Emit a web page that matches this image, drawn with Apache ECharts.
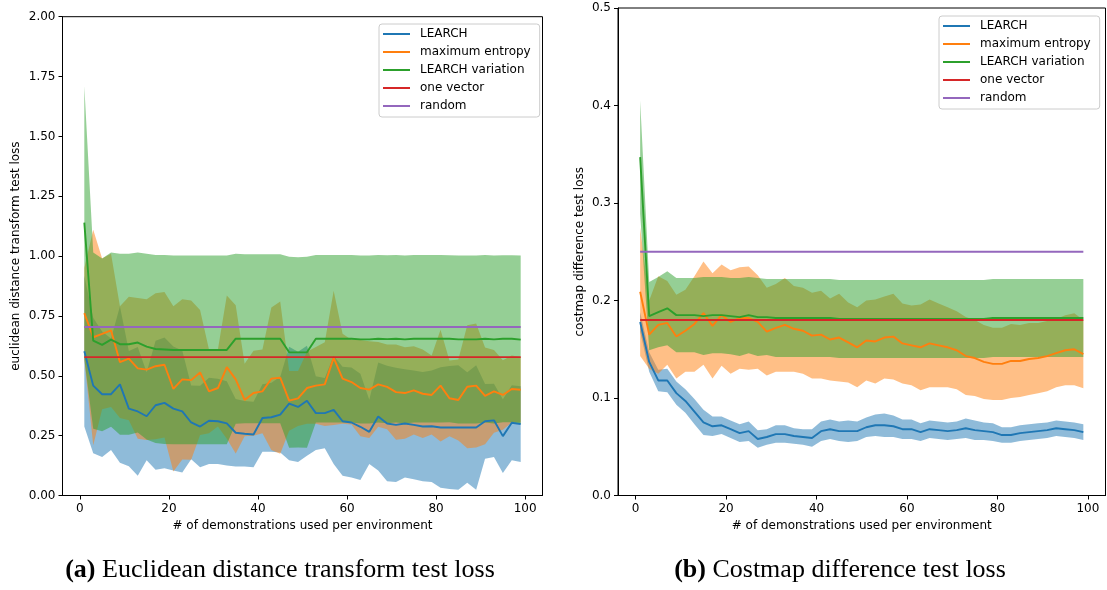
<!DOCTYPE html>
<html>
<head>
<meta charset="utf-8">
<script src="https://cdn.jsdelivr.net/npm/echarts@6/dist/echarts.min.js"></script>
<style>
  html, body { margin: 0; padding: 0; background: #fff; }
  #chart { width: 1107px; height: 590px; }
</style>
</head>
<body>
<div id="chart"></div>
<script>
// number of demonstrations (x)
const demos = [1,3,5,7,9,11,13,15,17,19,21,23,25,27,29,31,33,35,37,39,41,43,45,47,49,
  51,53,55,57,59,61,63,65,67,69,71,73,75,77,79,81,83,85,87,89,91,93,95,97,99];
const xTicks = [0, 20, 40, 60, 80, 100];
const names = ['LEARCH', 'maximum entropy', 'LEARCH variation', 'one vector', 'random'];

// (a) euclidean distance transform test loss
const edtLearchMean = [0.603,0.459,0.423,0.423,0.464,0.363,0.351,0.331,0.377,0.387,0.363,0.351,0.305,0.288,0.312,0.310,0.301,0.262,0.258,0.255,0.324,0.327,0.338,0.384,0.370,
  0.396,0.344,0.344,0.358,0.310,0.305,0.287,0.266,0.330,0.301,0.295,0.301,0.295,0.288,0.289,0.284,0.284,0.284,0.284,0.284,0.310,0.314,0.248,0.304,0.298];
const edtLearchLow = [0.288,0.176,0.161,0.190,0.137,0.122,0.082,0.147,0.108,0.114,0.104,0.096,0.151,0.118,0.132,0.132,0.125,0.121,0.121,0.118,0.183,0.183,0.180,0.147,0.140,
  0.166,0.190,0.197,0.132,0.082,0.075,0.065,0.132,0.104,0.060,0.056,0.075,0.068,0.060,0.056,0.032,0.027,0.024,0.053,0.024,0.154,0.161,0.094,0.147,0.140];
const edtLearchHigh = [0.918,0.742,0.685,0.656,0.791,0.604,0.620,0.515,0.646,0.660,0.622,0.606,0.459,0.458,0.492,0.488,0.477,0.403,0.395,0.392,0.465,0.471,0.496,0.621,0.600,
  0.626,0.498,0.491,0.584,0.538,0.535,0.509,0.400,0.556,0.542,0.534,0.527,0.522,0.516,0.522,0.536,0.541,0.544,0.515,0.544,0.466,0.467,0.402,0.461,0.456];
const edtMaxentMean = [0.762,0.661,0.675,0.690,0.557,0.572,0.531,0.526,0.540,0.546,0.445,0.485,0.482,0.514,0.435,0.449,0.536,0.485,0.399,0.428,0.435,0.488,0.492,0.396,0.406,
  0.449,0.459,0.464,0.575,0.488,0.474,0.449,0.442,0.464,0.454,0.432,0.428,0.439,0.425,0.420,0.459,0.406,0.399,0.454,0.459,0.416,0.435,0.420,0.445,0.442];
const edtMaxentLow = [0.570,0.210,0.360,0.370,0.324,0.314,0.237,0.232,0.235,0.242,0.100,0.150,0.149,0.253,0.260,0.288,0.237,0.175,0.248,0.250,0.260,0.190,0.174,0.270,0.290,
  0.300,0.300,0.290,0.295,0.300,0.297,0.248,0.240,0.287,0.277,0.233,0.237,0.255,0.240,0.255,0.226,0.248,0.230,0.197,0.200,0.214,0.262,0.275,0.305,0.305];
const edtMaxentHigh = [0.950,1.110,0.990,1.010,0.790,0.830,0.825,0.820,0.845,0.850,0.790,0.820,0.815,0.775,0.610,0.610,0.835,0.795,0.550,0.605,0.610,0.785,0.810,0.520,0.520,
  0.600,0.620,0.640,0.855,0.676,0.651,0.650,0.644,0.641,0.631,0.631,0.619,0.623,0.610,0.585,0.692,0.564,0.568,0.711,0.718,0.618,0.608,0.565,0.585,0.579];
const edtVarMean = [1.140,0.647,0.629,0.651,0.632,0.632,0.639,0.622,0.612,0.610,0.608,0.608,0.608,0.608,0.608,0.608,0.608,0.655,0.655,0.655,0.655,0.655,0.655,0.598,0.598,
  0.598,0.655,0.655,0.655,0.655,0.655,0.652,0.652,0.655,0.653,0.655,0.652,0.655,0.655,0.655,0.655,0.655,0.652,0.652,0.652,0.655,0.652,0.655,0.655,0.651];
const edtVarLow = [0.570,0.279,0.268,0.287,0.254,0.254,0.263,0.234,0.219,0.215,0.214,0.214,0.214,0.214,0.214,0.214,0.214,0.300,0.302,0.302,0.302,0.302,0.302,0.199,0.201,
  0.199,0.305,0.305,0.305,0.305,0.305,0.301,0.301,0.305,0.302,0.305,0.301,0.305,0.305,0.305,0.305,0.306,0.301,0.301,0.301,0.305,0.301,0.306,0.306,0.299];
const edtVarHigh = [1.710,1.015,0.990,1.015,1.010,1.010,1.015,1.010,1.005,1.005,1.002,1.002,1.002,1.002,1.002,1.002,1.002,1.010,1.008,1.008,1.008,1.008,1.008,0.997,0.995,
  0.997,1.005,1.005,1.005,1.005,1.005,1.003,1.003,1.005,1.004,1.005,1.003,1.005,1.005,1.005,1.005,1.004,1.003,1.003,1.003,1.005,1.003,1.004,1.004,1.003];
const edtOneVector = 0.578;
const edtRandom = 0.704;

// (b) costmap difference test loss
const cmLearchMean = [0.178,0.137,0.118,0.118,0.105,0.097,0.086,0.075,0.071,0.072,0.068,0.064,0.066,0.058,0.060,0.063,0.063,0.061,0.060,0.059,0.066,0.068,0.066,0.066,0.066,
  0.070,0.072,0.072,0.071,0.068,0.068,0.065,0.068,0.067,0.066,0.067,0.069,0.067,0.066,0.065,0.062,0.062,0.064,0.065,0.066,0.067,0.069,0.068,0.067,0.065];
const cmLearchLow = [0.168,0.127,0.107,0.106,0.093,0.085,0.073,0.062,0.061,0.063,0.059,0.055,0.056,0.049,0.052,0.054,0.054,0.053,0.052,0.050,0.056,0.058,0.056,0.055,0.056,
  0.060,0.061,0.060,0.060,0.058,0.058,0.056,0.059,0.058,0.057,0.058,0.059,0.057,0.057,0.056,0.054,0.054,0.056,0.057,0.058,0.059,0.061,0.060,0.059,0.057];
const cmLearchHigh = [0.188,0.147,0.129,0.130,0.117,0.109,0.099,0.088,0.081,0.081,0.077,0.073,0.076,0.067,0.068,0.072,0.072,0.069,0.068,0.068,0.076,0.078,0.076,0.077,0.076,
  0.080,0.083,0.084,0.082,0.078,0.078,0.074,0.077,0.076,0.075,0.076,0.079,0.077,0.075,0.074,0.070,0.070,0.072,0.073,0.074,0.075,0.077,0.076,0.075,0.073];
const cmMaxentMean = [0.209,0.165,0.175,0.177,0.163,0.169,0.176,0.187,0.174,0.185,0.178,0.182,0.182,0.178,0.168,0.172,0.175,0.171,0.169,0.164,0.165,0.160,0.162,0.157,0.152,
  0.159,0.158,0.162,0.163,0.156,0.154,0.152,0.156,0.154,0.152,0.149,0.143,0.141,0.137,0.135,0.135,0.138,0.138,0.140,0.141,0.143,0.146,0.149,0.150,0.145];
const cmMaxentLow = [0.143,0.130,0.125,0.134,0.120,0.127,0.127,0.134,0.120,0.133,0.125,0.130,0.129,0.130,0.123,0.127,0.127,0.127,0.125,0.120,0.120,0.118,0.117,0.116,0.111,
  0.118,0.115,0.120,0.119,0.115,0.113,0.108,0.111,0.111,0.111,0.109,0.103,0.102,0.099,0.098,0.098,0.100,0.101,0.103,0.105,0.107,0.111,0.113,0.113,0.110];
const cmMaxentHigh = [0.275,0.200,0.225,0.220,0.206,0.211,0.225,0.240,0.228,0.237,0.231,0.234,0.235,0.226,0.213,0.217,0.223,0.215,0.213,0.208,0.210,0.202,0.207,0.198,0.193,
  0.200,0.201,0.204,0.207,0.197,0.195,0.196,0.201,0.197,0.193,0.189,0.183,0.180,0.175,0.172,0.172,0.176,0.175,0.177,0.177,0.179,0.181,0.185,0.187,0.180];
const cmVarMean = [0.347,0.184,0.188,0.192,0.185,0.185,0.185,0.184,0.185,0.185,0.184,0.183,0.185,0.183,0.183,0.182,0.182,0.182,0.182,0.182,0.182,0.182,0.181,0.181,0.181,
  0.181,0.181,0.181,0.181,0.181,0.181,0.181,0.181,0.181,0.181,0.181,0.181,0.181,0.181,0.182,0.182,0.182,0.182,0.182,0.182,0.182,0.182,0.182,0.182,0.182];
const cmVarLow = [0.289,0.149,0.152,0.154,0.147,0.147,0.147,0.144,0.146,0.146,0.145,0.143,0.146,0.143,0.144,0.142,0.142,0.142,0.142,0.142,0.142,0.142,0.141,0.141,0.141,
  0.141,0.141,0.141,0.141,0.141,0.141,0.141,0.141,0.141,0.141,0.141,0.141,0.141,0.141,0.142,0.142,0.142,0.142,0.142,0.142,0.142,0.142,0.142,0.142,0.142];
const cmVarHigh = [0.405,0.219,0.224,0.230,0.223,0.223,0.223,0.224,0.224,0.224,0.223,0.223,0.224,0.223,0.222,0.222,0.222,0.222,0.222,0.222,0.222,0.222,0.221,0.221,0.221,
  0.221,0.221,0.221,0.221,0.221,0.221,0.221,0.221,0.221,0.221,0.221,0.221,0.221,0.221,0.222,0.222,0.222,0.222,0.222,0.222,0.222,0.222,0.222,0.222,0.222];
const cmOneVector = 0.180;
const cmRandom = 0.250;

const colors = { blue: '#1f77b4', orange: '#ff7f0e', green: '#2ca02c', red: '#d62728', purple: '#9467bd' };
const bandFill = { blue: 'rgba(31,119,180,0.5)', orange: 'rgba(255,127,14,0.5)', green: 'rgba(44,160,44,0.5)' };
const font = 'DejaVu Sans';

// filled band between low and high, drawn through the axis scale
function band(idx, low, high, fill) {
  return {
    type: 'custom',
    xAxisIndex: idx,
    yAxisIndex: idx,
    silent: true,
    z: 1,
    data: [[demos[0], low[0]]],
    renderItem: function (params, api) {
      const pts = [];
      for (let i = 0; i < demos.length; i++) pts.push(api.coord([demos[i], high[i]]));
      for (let i = demos.length - 1; i >= 0; i--) pts.push(api.coord([demos[i], low[i]]));
      return { type: 'polygon', shape: { points: pts }, style: { fill: fill } };
    }
  };
}

function line(idx, name, ys, color) {
  return {
    type: 'line',
    name: name,
    xAxisIndex: idx,
    yAxisIndex: idx,
    z: 3,
    color: color,
    symbol: 'none',
    lineStyle: { color: color, width: 1.9 },
    data: demos.map((x, i) => [x, ys[i]])
  };
}

function flat(idx, name, v, color) {
  return {
    type: 'line',
    name: name,
    xAxisIndex: idx,
    yAxisIndex: idx,
    z: 3,
    color: color,
    symbol: 'none',
    lineStyle: { color: color, width: 1.9 },
    data: [[demos[0], v], [demos[demos.length - 1], v]]
  };
}

function xAxisFor(idx) {
  return {
    type: 'value', gridIndex: idx, min: -3.9, max: 103.9,
    name: '# of demonstrations used per environment',
    nameLocation: 'middle', nameGap: 23,
    nameTextStyle: { fontFamily: font, fontSize: 12, color: '#000' },
    axisLine: { onZero: false, lineStyle: { color: '#000', width: 1 } },
    axisTick: { length: 4, lineStyle: { color: '#000' }, customValues: xTicks },
    axisLabel: { customValues: xTicks, fontFamily: font, fontSize: 12, color: '#000', margin: 7 },
    splitLine: { show: false }
  };
}

function yAxisFor(idx, name, max, step, digits, gap) {
  return {
    type: 'value', gridIndex: idx, min: 0, max: max, interval: step,
    name: name, nameLocation: 'middle', nameGap: gap,
    nameTextStyle: { fontFamily: font, fontSize: 12, color: '#000' },
    axisLine: { show: true, onZero: false, lineStyle: { color: '#000', width: 1 } },
    axisTick: { show: true, length: 4, lineStyle: { color: '#000' } },
    axisLabel: { fontFamily: font, fontSize: 12, color: '#000', margin: 7,
      formatter: v => v.toFixed(digits) },
    splitLine: { show: false }
  };
}

function legendAt(left, top) {
  return {
    orient: 'vertical', left: left, top: top,
    data: names, icon: 'rect', itemWidth: 27, itemHeight: 2, itemGap: 0,
    padding: [1, 9, 2, 4],
    borderColor: '#cccccc', borderWidth: 1, borderRadius: 3,
    backgroundColor: 'rgba(255,255,255,0.8)',
    textStyle: { fontFamily: font, fontSize: 12, color: '#000', lineHeight: 18, padding: [0, 0, 0, 5] }
  };
}

function caption(tag, text, x) {
  return {
    text: '{b|' + tag + '} ' + text,
    left: x, top: 557, textAlign: 'center', padding: 0,
    textStyle: {
      fontFamily: 'Liberation Serif', fontSize: 26, fontWeight: 'normal', color: '#000',
      rich: { b: { fontFamily: 'Liberation Serif', fontSize: 26, fontWeight: 'bold', color: '#000' } }
    }
  };
}

const chart = echarts.init(document.getElementById('chart'));
chart.setOption({
  animation: false,
  backgroundColor: '#fff',
  title: [
    caption('(a)', 'Euclidean distance transform test loss', 280),
    caption('(b)', 'Costmap difference test loss', 840)
  ],
  legend: [legendAt(379, 24), legendAt(939, 16)],
  grid: [
    { left: 62.5, right: 564.5, top: 16.7, bottom: 94.5, show: true, borderColor: '#000', borderWidth: 1 },
    { left: 618, right: 1.5, top: 8, bottom: 94.5, show: true, borderColor: '#000', borderWidth: 1 }
  ],
  xAxis: [xAxisFor(0), xAxisFor(1)],
  yAxis: [
    yAxisFor(0, 'euclidean distance transform test loss', 2, 0.25, 2, 41),
    yAxisFor(1, 'costmap difference test loss', 0.5, 0.1, 1, 32)
  ],
  series: [
    band(0, edtLearchLow, edtLearchHigh, bandFill.blue),
    band(0, edtMaxentLow, edtMaxentHigh, bandFill.orange),
    band(0, edtVarLow, edtVarHigh, bandFill.green),
    line(0, names[0], edtLearchMean, colors.blue),
    line(0, names[1], edtMaxentMean, colors.orange),
    line(0, names[2], edtVarMean, colors.green),
    flat(0, names[3], edtOneVector, colors.red),
    flat(0, names[4], edtRandom, colors.purple),

    band(1, cmLearchLow, cmLearchHigh, bandFill.blue),
    band(1, cmMaxentLow, cmMaxentHigh, bandFill.orange),
    band(1, cmVarLow, cmVarHigh, bandFill.green),
    line(1, names[0], cmLearchMean, colors.blue),
    line(1, names[1], cmMaxentMean, colors.orange),
    line(1, names[2], cmVarMean, colors.green),
    flat(1, names[3], cmOneVector, colors.red),
    flat(1, names[4], cmRandom, colors.purple)
  ]
});
</script>
</body>
</html>
